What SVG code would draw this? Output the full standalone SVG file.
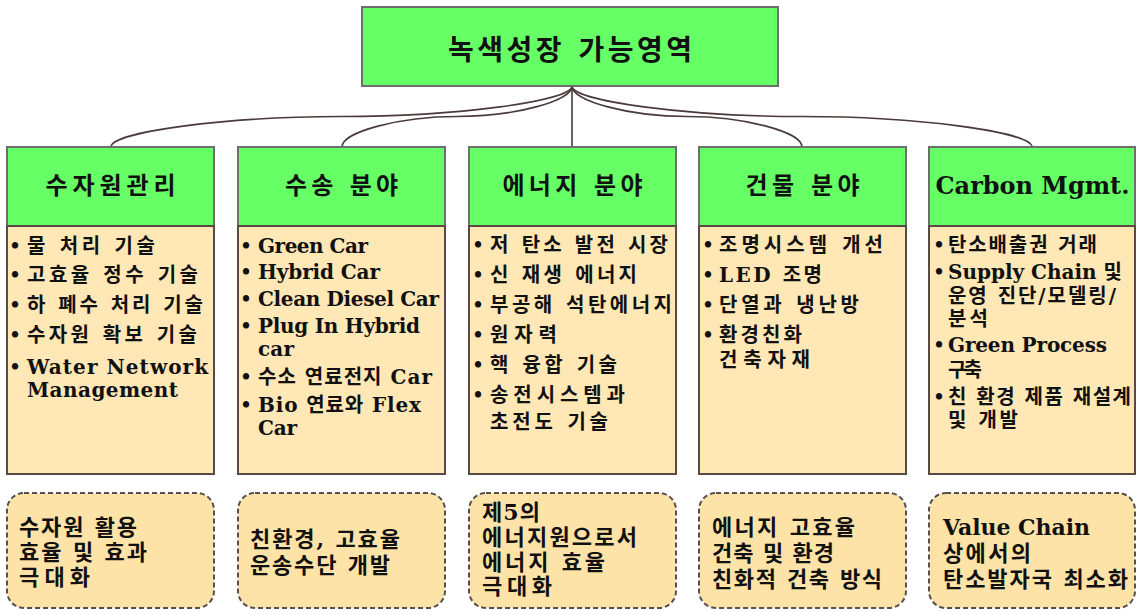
<svg xmlns="http://www.w3.org/2000/svg" width="1139" height="611" viewBox="0 0 1139 611">
<style>
.bg{fill:#ffffff}
.green{fill:#66ff66;stroke:#6e6e6e;stroke-width:2}
.tan{fill:#ffe7b6;stroke:#5a4a45;stroke-width:2}
.dash{fill:#fde3a7;stroke:#555050;stroke-width:2;stroke-dasharray:5 3}
.conn{fill:none;stroke:#4a3b3b;stroke-width:1.6}
text{font-family:"DejaVu Serif","Noto Sans CJK KR",serif;font-weight:bold;fill:#111111}
.title{font-size:28px}
.head{font-size:24px}
.b{font-size:20px}
.bul{font-size:18px}
.low{font-size:22px}
</style>
<rect class="bg" x="0" y="0" width="1139" height="611"/>

<g id="connectors">
<path class="conn" d="M572,86 C572,101 456.75,116.5 341.5,116.5 C226.25,116.5 111,132 111,147"/>
<path class="conn" d="M572,86 C572,101 514.5,116.5 457,116.5 C399.5,116.5 342,132 342,147"/>
<path class="conn" d="M572,86 L572,147"/>
<path class="conn" d="M572,86 C572,101 629.5,116.5 687,116.5 C744.5,116.5 802,132 802,147"/>
<path class="conn" d="M572,86 C572,101 687,116.5 802,116.5 C917,116.5 1032,132 1032,147"/>
</g>

<g id="root">
<rect class="green" x="362" y="7" width="416" height="79"/>
<text class="title" x="570" y="60" text-anchor="middle" textLength="244" lengthAdjust="spacing">녹색성장 가능영역</text>
</g>

<g id="water">
<rect class="green" x="7" y="147" width="207" height="79"/>
<text class="head" x="110.5" y="194" text-anchor="middle" textLength="130" lengthAdjust="spacing">수자원관리</text>
<rect class="tan" x="7" y="226" width="207" height="248"/>
<text class="bul" x="15" y="252" text-anchor="middle">•</text>
<text class="b" x="27" y="253" textLength="128" lengthAdjust="spacing">물 처리 기술</text>
<text class="bul" x="15" y="281" text-anchor="middle">•</text>
<text class="b" x="27" y="282" textLength="171" lengthAdjust="spacing">고효율 정수 기술</text>
<text class="bul" x="15" y="311" text-anchor="middle">•</text>
<text class="b" x="27" y="312" textLength="176" lengthAdjust="spacing">하 폐수 처리 기술</text>
<text class="bul" x="15" y="341" text-anchor="middle">•</text>
<text class="b" x="27" y="342" textLength="170" lengthAdjust="spacing">수자원 확보 기술</text>
<text class="bul" x="15" y="373" text-anchor="middle">•</text>
<text class="b" x="27" y="374" textLength="181" lengthAdjust="spacing">Water Network</text>
<text class="b" x="27" y="397" textLength="151" lengthAdjust="spacing">Management</text>
</g>

<g id="transport">
<rect class="green" x="238" y="147" width="207" height="79"/>
<text class="head" x="341.5" y="194" text-anchor="middle" textLength="113" lengthAdjust="spacing">수송 분야</text>
<rect class="tan" x="238" y="226" width="207" height="248"/>
<text class="bul" x="246" y="252" text-anchor="middle">•</text>
<text class="b" x="258" y="253" textLength="110" lengthAdjust="spacing">Green Car</text>
<text class="bul" x="246" y="278" text-anchor="middle">•</text>
<text class="b" x="258" y="279" textLength="122" lengthAdjust="spacing">Hybrid Car</text>
<text class="bul" x="246" y="305" text-anchor="middle">•</text>
<text class="b" x="258" y="306" textLength="181" lengthAdjust="spacing">Clean Diesel Car</text>
<text class="bul" x="246" y="332" text-anchor="middle">•</text>
<text class="b" x="258" y="333" textLength="162" lengthAdjust="spacing">Plug In Hybrid</text>
<text class="b" x="258" y="356" textLength="36" lengthAdjust="spacing">car</text>
<text class="bul" x="246" y="383" text-anchor="middle">•</text>
<text class="b" x="258" y="384" textLength="174" lengthAdjust="spacing">수소 연료전지 Car</text>
<text class="bul" x="246" y="411" text-anchor="middle">•</text>
<text class="b" x="258" y="412" textLength="163" lengthAdjust="spacing">Bio 연료와 Flex</text>
<text class="b" x="258" y="435" textLength="39" lengthAdjust="spacing">Car</text>
</g>

<g id="energy">
<rect class="green" x="469" y="147" width="207" height="79"/>
<text class="head" x="572.5" y="194" text-anchor="middle" textLength="140" lengthAdjust="spacing">에너지 분야</text>
<rect class="tan" x="469" y="226" width="207" height="248"/>
<text class="bul" x="478" y="251" text-anchor="middle">•</text>
<text class="b" x="490" y="252" textLength="178" lengthAdjust="spacing">저 탄소 발전 시장</text>
<text class="bul" x="478" y="281" text-anchor="middle">•</text>
<text class="b" x="490" y="282" textLength="147" lengthAdjust="spacing">신 재생 에너지</text>
<text class="bul" x="478" y="311" text-anchor="middle">•</text>
<text class="b" x="490" y="312" textLength="182" lengthAdjust="spacing">부공해 석탄에너지</text>
<text class="bul" x="478" y="341" text-anchor="middle">•</text>
<text class="b" x="490" y="342" textLength="67" lengthAdjust="spacing">원자력</text>
<text class="bul" x="478" y="371" text-anchor="middle">•</text>
<text class="b" x="490" y="372" textLength="127" lengthAdjust="spacing">핵 융합 기술</text>
<text class="bul" x="478" y="401" text-anchor="middle">•</text>
<text class="b" x="490" y="402" textLength="135" lengthAdjust="spacing">송전시스템과</text>
<text class="b" x="490" y="429" textLength="118" lengthAdjust="spacing">초전도 기술</text>
</g>

<g id="building">
<rect class="green" x="699" y="147" width="207" height="79"/>
<text class="head" x="802.5" y="194" text-anchor="middle" textLength="114" lengthAdjust="spacing">건물 분야</text>
<rect class="tan" x="699" y="226" width="207" height="248"/>
<text class="bul" x="708" y="251" text-anchor="middle">•</text>
<text class="b" x="719" y="252" textLength="164" lengthAdjust="spacing">조명시스템 개선</text>
<text class="bul" x="708" y="281" text-anchor="middle">•</text>
<text class="b" x="719" y="282" textLength="103" lengthAdjust="spacing">LED 조명</text>
<text class="bul" x="708" y="311" text-anchor="middle">•</text>
<text class="b" x="719" y="312" textLength="140" lengthAdjust="spacing">단열과 냉난방</text>
<text class="bul" x="708" y="341" text-anchor="middle">•</text>
<text class="b" x="719" y="342" textLength="83" lengthAdjust="spacing">환경친화</text>
<text class="b" x="719" y="367" textLength="91" lengthAdjust="spacing">건축자재</text>
</g>

<g id="carbon">
<rect class="green" x="929" y="147" width="206" height="79"/>
<text class="head" x="1032.5" y="194" text-anchor="middle" textLength="194" lengthAdjust="spacing">Carbon Mgmt.</text>
<rect class="tan" x="929" y="226" width="206" height="248"/>
<text class="bul" x="939" y="251" text-anchor="middle">•</text>
<text class="b" x="948" y="252" textLength="149" lengthAdjust="spacing">탄소배출권 거래</text>
<text class="bul" x="939" y="278" text-anchor="middle">•</text>
<text class="b" x="948" y="279" textLength="174" lengthAdjust="spacing">Supply Chain 및</text>
<text class="b" x="948" y="303" textLength="168" lengthAdjust="spacing">운영 진단/모델링/</text>
<text class="b" x="948" y="326" textLength="40" lengthAdjust="spacing">분석</text>
<text class="bul" x="939" y="351" text-anchor="middle">•</text>
<text class="b" x="948" y="352" textLength="159" lengthAdjust="spacing">Green Process</text>
<text class="b" x="948" y="377" textLength="34" lengthAdjust="spacing">구축</text>
<text class="bul" x="939" y="403" text-anchor="middle">•</text>
<text class="b" x="948" y="404" textLength="183" lengthAdjust="spacing">친 환경 제품 재설계</text>
<text class="b" x="948" y="427" textLength="70" lengthAdjust="spacing">및 개발</text>
</g>

<g id="goal-water">
<rect class="dash" x="7" y="493" width="207" height="115" rx="17"/>
<text class="low" x="19" y="535" textLength="118" lengthAdjust="spacing">수자원 활용</text>
<text class="low" x="19" y="560" textLength="128" lengthAdjust="spacing">효율 및 효과</text>
<text class="low" x="19" y="585" textLength="71" lengthAdjust="spacing">극대화</text>
</g>

<g id="goal-transport">
<rect class="dash" x="238" y="493" width="207" height="115" rx="17"/>
<text class="low" x="250" y="547" textLength="150" lengthAdjust="spacing">친환경, 고효율</text>
<text class="low" x="250" y="573" textLength="140" lengthAdjust="spacing">운송수단 개발</text>
</g>

<g id="goal-energy">
<rect class="dash" x="469" y="493" width="207" height="115" rx="17"/>
<text class="low" x="482" y="520" textLength="58" lengthAdjust="spacing">제5의</text>
<text class="low" x="482" y="545" textLength="155" lengthAdjust="spacing">에너지원으로서</text>
<text class="low" x="482" y="570" textLength="123" lengthAdjust="spacing">에너지 효율</text>
<text class="low" x="482" y="594" textLength="70" lengthAdjust="spacing">극대화</text>
</g>

<g id="goal-building">
<rect class="dash" x="699" y="493" width="207" height="115" rx="17"/>
<text class="low" x="712" y="535" textLength="143" lengthAdjust="spacing">에너지 고효율</text>
<text class="low" x="712" y="561" textLength="122" lengthAdjust="spacing">건축 및 환경</text>
<text class="low" x="712" y="587" textLength="170" lengthAdjust="spacing">친화적 건축 방식</text>
</g>

<g id="goal-carbon">
<rect class="dash" x="929" y="493" width="206" height="115" rx="17"/>
<text class="low" x="943" y="535" textLength="147" lengthAdjust="spacing">Value Chain</text>
<text class="low" x="943" y="561" textLength="88" lengthAdjust="spacing">상에서의</text>
<text class="low" x="943" y="587" textLength="185" lengthAdjust="spacing">탄소발자국 최소화</text>
</g>
</svg>
